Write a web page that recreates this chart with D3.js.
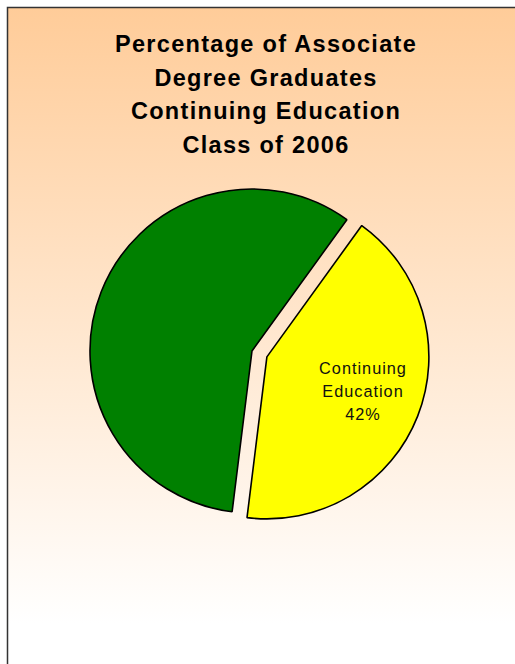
<!DOCTYPE html>
<html>
<head>
<meta charset="utf-8">
<script src="https://cdn.jsdelivr.net/npm/d3@7"></script>
<style>
body{margin:0;padding:0;background:#fff;}
svg{display:block;}
</style>
</head>
<body>
<div id="chart"></div>
<script>
var width=515
var height=664

// data
var categories=["Not Continuing","Continuing Education"];
var values=[58,42];
var colors=["#008000","#FFFF00"];
var labelLines=[null,["Continuing","Education","42%"]];
var titleLines=["Percentage of Associate","Degree Graduates","Continuing Education","Class of 2006"];

var svg=d3.select("#chart").append("svg").attr("width",width).attr("height",height);

var defs=svg.append("defs");
var grad=defs.append("linearGradient").attr("id","bg").attr("x1",0).attr("y1",0).attr("x2",0).attr("y2",1);
grad.append("stop").attr("offset","0%").attr("stop-color","#FFCC99");
grad.append("stop").attr("offset","88%").attr("stop-color","#FFFFFF");
grad.append("stop").attr("offset","100%").attr("stop-color","#FFFFFF");

// chart area (runs past the right and bottom edge of the picture)
svg.append("rect")
.attr("x",7.5).attr("y",7.5)
.attr("width",530).attr("height",700)
.attr("fill","url(#bg)")
.attr("stroke","#333").attr("stroke-width",1.5);

// title
svg.append("text")
.attr("text-anchor","middle")
.attr("font-family","Liberation Sans, Arial, sans-serif")
.attr("font-weight","bold")
.attr("font-size","23.5px")
.attr("letter-spacing","1.3px")
.selectAll("tspan").data(titleLines).enter().append("tspan")
.attr("x",266)
.attr("y",(d,i)=>52+i*33.7)
.text(d=>d);

// pie
var cx=252, cy=351, r=162;
var midYellow=111.45*Math.PI/180;
var startAngle=midYellow-values[1]/100*Math.PI; // yellow starts here
var pie=d3.pie().sort(null).value(d=>d)
.startAngle(startAngle-2*Math.PI*values[0]/100)
.endAngle(startAngle+2*Math.PI*values[1]/100);
var arcs=pie(values);
var arc=d3.arc().innerRadius(0).outerRadius(r);
var explode=[0,16];

var g=svg.append("g").attr("transform","translate("+cx+","+cy+")");

g.selectAll("path").data(arcs).enter().append("path")
.attr("transform",(d,i)=>{
  var a=(d.startAngle+d.endAngle)/2;
  return "translate("+(Math.sin(a)*explode[i])+","+(-Math.cos(a)*explode[i])+")";
})
.attr("d",arc)
.attr("fill",(d,i)=>colors[i])
.attr("stroke","#000")
.attr("stroke-width",1.6)
.attr("stroke-linejoin","bevel");

// slice label
arcs.forEach((d,i)=>{
  if(!labelLines[i]) return;
  svg.append("text")
  .attr("text-anchor","middle")
  .attr("font-family","Liberation Sans, Arial, sans-serif")
  .attr("font-size","16.3px")
  .attr("letter-spacing","1px")
  .attr("fill","#111")
  .selectAll("tspan").data(labelLines[i]).enter().append("tspan")
  .attr("x",363)
  .attr("y",(t,j)=>374+j*23)
  .text(t=>t);
});
</script>
</body>
</html>
